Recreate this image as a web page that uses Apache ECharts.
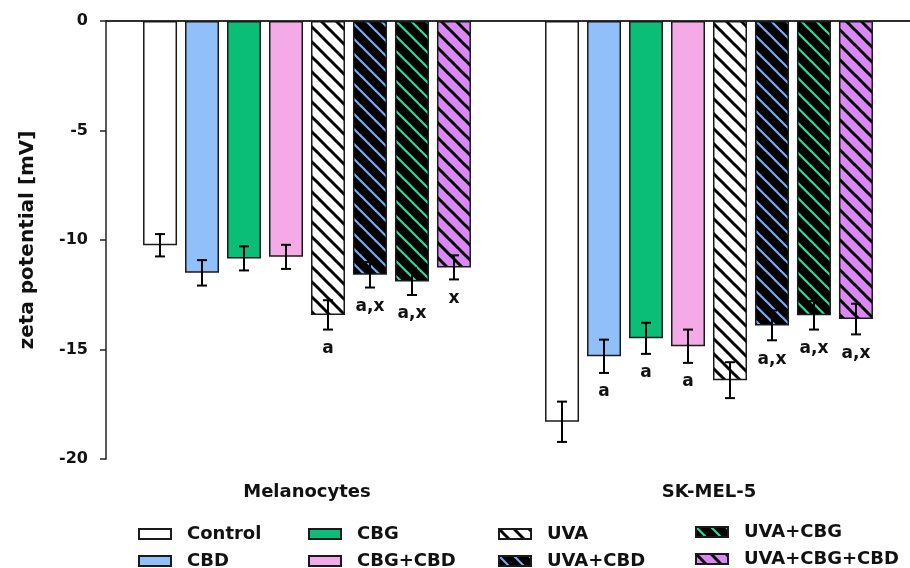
<!DOCTYPE html>
<html>
<head>
<meta charset="utf-8">
<script src="https://cdn.jsdelivr.net/npm/echarts@6/dist/echarts.min.js"></script>
<style>
html,body{margin:0;padding:0;background:#fff;}
#chart{width:910px;height:568px;}
</style>
</head>
<body>
<div id="chart"></div>
<script>
// ---------------- data ----------------
const categories = ['Melanocytes', 'SK-MEL-5'];
const treatments = ['Control', 'CBD', 'CBG', 'CBG+CBD', 'UVA', 'UVA+CBD', 'UVA+CBG', 'UVA+CBG+CBD'];
const meanMelanocytes = [-10.24, -11.50, -10.84, -10.77, -13.42, -11.59, -11.90, -11.25];
const meanSKMEL5      = [-18.30, -15.31, -14.49, -14.85, -16.40, -13.90, -13.44, -13.61];
const errMelanocytes  = [0.51, 0.58, 0.55, 0.55, 0.67, 0.58, 0.61, 0.55];
const errSKMEL5       = [0.92, 0.76, 0.71, 0.76, 0.82, 0.68, 0.65, 0.70];
const sigMelanocytes  = ['', '', '', '', 'a', 'a,x', 'a,x', 'x'];
const sigSKMEL5       = ['', 'a', 'a', 'a', '', 'a,x', 'a,x', 'a,x'];
const yMin = -20, yMax = 0, yInterval = 5;

// ---------------- style ----------------
const FONT = '"DejaVu Sans", "Liberation Sans", Arial, sans-serif';
const BAR_W = 34, BAR_GAP = 8;
const BORDER = '#1a1a1a';

function hatch(bg, fg, lw) {
  const s = 15;
  const c = document.createElement('canvas');
  c.width = s; c.height = s;
  const g = c.getContext('2d');
  g.fillStyle = bg; g.fillRect(0, 0, s, s);
  g.strokeStyle = fg; g.lineWidth = lw; g.lineCap = 'square';
  [-s, 0, s].forEach((dx) => {
    g.beginPath();
    g.moveTo(dx - 2, -2);
    g.lineTo(dx + s + 2, s + 2);
    g.stroke();
  });
  return { image: c, repeat: 'repeat' };
}

const fills = [
  '#ffffff',
  '#90bff9',
  '#0abe78',
  '#f5aae8',
  hatch('#ffffff', '#000000', 3),
  hatch('#000000', '#7aaaf0', 2.2),
  hatch('#000000', '#2adc96', 2.2),
  hatch('#da88f5', '#000000', 3)
];

const series = treatments.map((t, i) => ({
  name: t,
  type: 'bar',
  data: [meanMelanocytes[i], meanSKMEL5[i]],
  barWidth: BAR_W,
  barGap: (BAR_GAP / BAR_W * 100).toFixed(1) + '%',
  itemStyle: { color: fills[i], borderColor: BORDER, borderWidth: 1.5 },
  emphasis: { disabled: true },
  animation: false
}));

const errItems = [];
const means = [meanMelanocytes, meanSKMEL5];
const errs = [errMelanocytes, errSKMEL5];
const sigs = [sigMelanocytes, sigSKMEL5];
categories.forEach((c, ci) => {
  treatments.forEach((t, ti) => {
    errItems.push({ value: [ci, means[ci][ti], ti, errs[ci][ti]], sig: sigs[ci][ti] });
  });
});

series.push({
  name: 'errors',
  type: 'custom',
  z: 10,
  animation: false,
  silent: true,
  clip: false,
  encode: { x: 0, y: 1 },
  data: errItems.map(d => d.value),
  renderItem: function (params, api) {
    const ci = api.value(0), m = api.value(1), ti = api.value(2), e = api.value(3);
    const base = api.coord([ci, m]);
    const x = base[0] + (ti - 3.5) * (BAR_W + BAR_GAP);
    const yTop = api.coord([ci, m + e])[1];
    const yBot = api.coord([ci, m - e])[1];
    const cap = 5;
    const st = { stroke: '#000', lineWidth: 2 };
    const children = [
      { type: 'line', shape: { x1: x, y1: yTop, x2: x, y2: yBot }, style: st },
      { type: 'line', shape: { x1: x - cap, y1: yTop, x2: x + cap, y2: yTop }, style: st },
      { type: 'line', shape: { x1: x - cap, y1: yBot, x2: x + cap, y2: yBot }, style: st }
    ];
    const sig = errItems[params.dataIndex].sig;
    if (sig) {
      children.push({
        type: 'text',
        style: {
          text: sig, x: x, y: yBot + 19,
          align: 'center', verticalAlign: 'middle',
          fontFamily: FONT, fontWeight: 'bold', fontSize: 17, fill: '#111'
        }
      });
    }
    return { type: 'group', children: children };
  }
});

const legendCommon = {
  orient: 'vertical',
  icon: 'rect',
  itemWidth: 32,
  itemHeight: 10,
  itemGap: 9,
  top: 525,
  height: 60,
  padding: 0,
  selectedMode: false,
  textStyle: { fontFamily: FONT, fontWeight: 'bold', fontSize: 18, lineHeight: 16, color: '#111', padding: [0, 0, 0, 11] }
};

const option = {
  backgroundColor: '#ffffff',
  animation: false,
  grid: { left: 106, right: 0, top: 21, bottom: 109, containLabel: false },
  legend: [
    Object.assign({}, legendCommon, { left: 138, data: [treatments[0], treatments[1]] }),
    Object.assign({}, legendCommon, { left: 308, data: [treatments[2], treatments[3]] }),
    Object.assign({}, legendCommon, { left: 498, data: [treatments[4], treatments[5]] }),
    Object.assign({}, legendCommon, { left: 695, top: 523, data: [treatments[6], treatments[7]] })
  ],
  xAxis: [
    {
      type: 'category',
      data: categories,
      position: 'bottom',
      axisLine: { lineStyle: { color: '#222', width: 1.5 } },
      axisTick: { alignWithLabel: true, length: 8, lineStyle: { color: '#222', width: 1.5 } },
      axisLabel: { margin: 24, fontFamily: FONT, fontWeight: 'bold', fontSize: 18, color: '#111' }
    },
    {
      type: 'category',
      data: categories,
      position: 'top',
      axisLine: { lineStyle: { color: '#222', width: 1.5 } },
      axisTick: { show: false },
      axisLabel: { show: false }
    }
  ],
  yAxis: {
    type: 'value',
    min: yMin, max: yMax, interval: yInterval,
    name: 'zeta potential [mV]',
    nameLocation: 'middle',
    nameGap: 68,
    nameTextStyle: { fontFamily: FONT, fontWeight: 'bold', fontSize: 20, color: '#111' },
    axisLine: { show: true, lineStyle: { color: '#222', width: 1.5 } },
    axisTick: { show: true, length: 6, lineStyle: { color: '#222', width: 1.5 } },
    axisLabel: { margin: 18, fontFamily: FONT, fontWeight: 'bold', fontSize: 16, color: '#111' },
    splitLine: { show: false }
  },
  series: series
};

const chart = echarts.init(document.getElementById('chart'), null, { renderer: 'canvas' });
chart.setOption(option);
</script>
</body>
</html>
